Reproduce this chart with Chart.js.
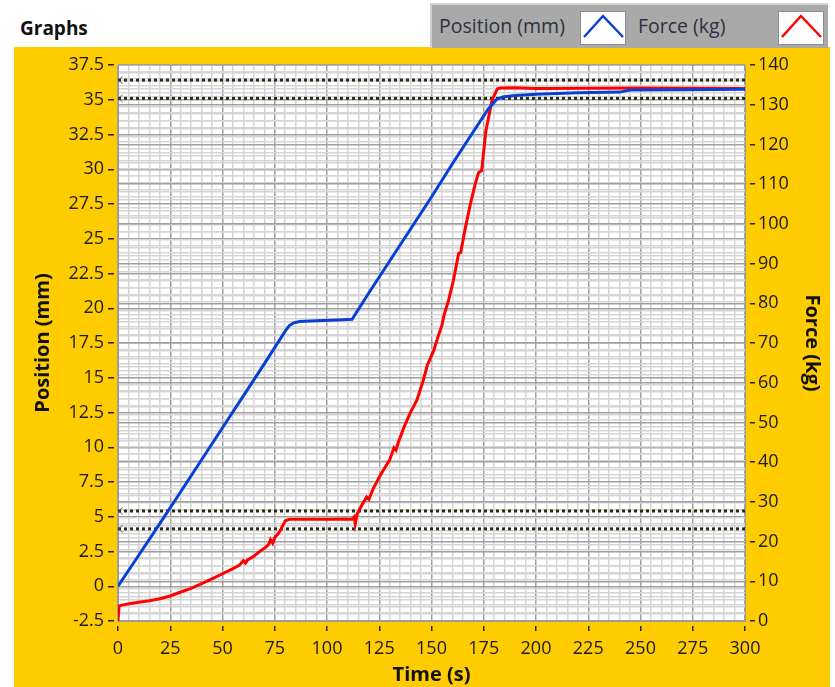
<!DOCTYPE html>
<html>
<head>
<meta charset="utf-8">
<title>Graphs</title>
<script src="https://cdn.jsdelivr.net/npm/chart.js@4.4.1/dist/chart.umd.min.js"></script>
<style>
    html, body { margin: 0; padding: 0; background: #fff; }
    body { width: 835px; height: 687px; position: relative; overflow: hidden; font-family: 'Open Sans', sans-serif; }
    .graph-title { position: absolute; left: 20px; top: 13px; font-size: 19px; font-weight: bold; color: #111; line-height: 30px; }
    .panel { position: absolute; left: 14px; top: 47px; width: 816px; height: 640px; background: #ffcc00; }
    .panel canvas { position: absolute; left: 0; top: 0; }
    .legend { position: absolute; left: 430px; top: 3px; width: 398px; height: 45px; background: #a9a9a9;
              border-top: 2px solid #d6d6d6; border-left: 2px solid #cdcdcd; box-sizing: border-box; }
    .legend-text { position: absolute; top: 5px; font-size: 19.5px; color: #2e3040; line-height: 32px; }
    .legend-icon { position: absolute; top: 6px; width: 46px; height: 34px; background: #fff; border: 1px solid #8c8c8c; box-sizing: border-box; }
    .legend-icon svg { display: block; }
</style>
</head>
<body>
<div class="graph-title">Graphs</div>
<div class="panel">
    <canvas id="graphChart" width="816" height="640"></canvas>
</div>
<div class="legend">
    <span class="legend-text" style="left:7px">Position (mm)</span>
    <div class="legend-icon" style="left:148px">
        <svg width="44" height="32"><polyline points="3,25 22,4 42,25" fill="none" stroke="#0a3fd6" stroke-width="2.5"/></svg>
    </div>
    <span class="legend-text" style="left:206px">Force (kg)</span>
    <div class="legend-icon" style="left:346px">
        <svg width="44" height="32"><polyline points="3,25 22,4 42,25" fill="none" stroke="#ff0000" stroke-width="2.5"/></svg>
    </div>
</div>
<script>
// Position trace (blue, left axis)
const positionTime = [0, 10, 20, 30, 40, 50, 60, 70, 80, 82, 84, 87, 95, 105, 112,
    120, 130, 140, 150, 160, 170, 177, 181, 184, 190, 200, 220, 240, 245, 270, 300];
const positionMm = [0, 2.25, 4.5, 6.8, 9.1, 11.4, 13.7, 16.0, 18.35, 18.75, 18.95, 19.05, 19.1, 19.15, 19.2,
    21.1, 23.4, 25.7, 28.0, 30.4, 32.7, 34.3, 35.0, 35.2, 35.3, 35.4, 35.5, 35.55, 35.7, 35.72, 35.75];

// Force trace (red, right axis)
const forceTime = [0, 0.5, 2, 6, 10, 15, 20, 25, 30, 35, 40, 45, 50, 55, 58, 60, 61, 62, 65, 68,
    70, 72, 73, 74, 75, 77, 80, 82, 90, 100, 108, 112, 113, 113.5, 114.5, 117, 119, 120, 122, 125,
    127, 130, 132, 133, 134, 137, 140, 141, 143, 146, 148, 151, 153, 155, 156, 158, 160.5, 163, 164, 166,
    168.7, 171, 172.5, 174, 176, 179, 181.5, 183, 190, 200, 250, 300];
const forceKg = [0, 3.8, 4.0, 4.4, 4.7, 5.1, 5.6, 6.3, 7.3, 8.2, 9.4, 10.6, 11.9, 13.2, 14.0, 15.2, 14.6, 15.4, 16.3, 17.6,
    18.3, 19.2, 20.5, 19.6, 21.0, 22.2, 25.2, 25.6, 25.6, 25.6, 25.7, 25.6, 26.2, 24.4, 27.0, 29.5, 31.2, 30.6, 33.2, 36.2,
    38.0, 40.6, 43.6, 43.0, 44.8, 49.0, 52.6, 53.6, 55.6, 60.5, 64.4, 68.0, 71.4, 74.5, 77.0, 80.4, 85.8, 92.6, 92.8, 98.5,
    105.2, 110.2, 112.9, 113.4, 123.3, 131.2, 134.0, 134.2, 134.3, 134.1, 134.2, 134.1];

// Dotted cursor / limit lines (kg)
const limitLines = [136.2, 131.6, 27.7, 23.2];

const BLUE = '#0a3fd6';
const RED = '#ff0000';
const MAJOR_GRID = '#a0a0a0';
const MINOR_GRID = '#d5d5d5';
const TICK_FONT = { family: 'Open Sans', size: 18 };
const TITLE_FONT = { family: 'Open Sans', size: 20, weight: 'bold' };

document.addEventListener('DOMContentLoaded', function() {
    initGraph();
});

function isMajor(value, step) {
    return Math.abs(value / step - Math.round(value / step)) < 1e-6;
}

function fmt(value) {
    return String(Math.round(value * 10) / 10);
}

function toPoints(xs, ys) {
    return xs.map((x, i) => ({ x: x, y: ys[i] }));
}

// small "<" marker drawn at the left end of each cursor line
function makeArrowMarker() {
    const c = document.createElement('canvas');
    c.width = 14;
    c.height = 10;
    const g = c.getContext('2d');
    g.strokeStyle = '#505040';
    g.lineWidth = 1;
    g.beginPath();
    g.moveTo(11.5, 1.5);
    g.lineTo(7.5, 5);
    g.lineTo(11.5, 8.5);
    g.stroke();
    return c;
}

function gridOptions(step, offset) {
    return {
        color: ctx => isMajor(ctx.tick.value, step) ? MAJOR_GRID : MINOR_GRID,
        lineWidth: 1.5,
        tickLength: 10,
        tickWidth: 1.5,
        tickColor: ctx => isMajor(ctx.tick.value, step) ? '#222' : 'rgba(0,0,0,0)',
        tickBorderDash: [6, 4],
        tickBorderDashOffset: offset
    };
}

function initGraph() {
    const ctx = document.getElementById('graphChart').getContext('2d');
    const marker = makeArrowMarker();

    const limitSets = limitLines.map(v => ({
        data: [{ x: 0, y: v }, { x: 300, y: v }],
        yAxisID: 'y2',
        borderColor: '#2b2b12',
        borderWidth: 3,
        borderDash: [3, 3],
        pointStyle: marker,
        pointRadius: [5, 0],
        fill: false
    }));

    // white plot area on the yellow panel
    const plotBackground = {
        id: 'plotBackground',
        beforeDraw(chart) {
            const a = chart.chartArea;
            chart.ctx.save();
            chart.ctx.fillStyle = '#ffffff';
            chart.ctx.fillRect(a.left, a.top, a.right - a.left, a.bottom - a.top);
            chart.ctx.restore();
        }
    };

    new Chart(ctx, {
        type: 'line',
        data: {
            datasets: [
                {
                    label: 'Position (mm)',
                    data: toPoints(positionTime, positionMm),
                    yAxisID: 'y',
                    borderColor: BLUE,
                    borderWidth: 3,
                    pointRadius: 0,
                    tension: 0,
                    fill: false
                },
                {
                    label: 'Force (kg)',
                    data: toPoints(forceTime, forceKg),
                    yAxisID: 'y2',
                    borderColor: RED,
                    borderWidth: 3,
                    pointRadius: 0,
                    tension: 0,
                    fill: false
                }
            ].concat(limitSets)
        },
        options: {
            responsive: false,
            animation: false,
            layout: { padding: { top: 18, left: 0, right: 0, bottom: 0 } },
            plugins: {
                legend: { display: false },
                tooltip: { enabled: false }
            },
            scales: {
                x: {
                    type: 'linear',
                    position: 'bottom',
                    min: 0,
                    max: 300,
                    afterFit: scale => { scale.height = 66; },
                    grid: gridOptions(25, 6),
                    border: { color: '#9a9a9a', width: 1 },
                    ticks: {
                        stepSize: 5,
                        autoSkip: false,
                        maxRotation: 0,
                        minRotation: 0,
                        padding: 7,
                        color: '#1a1a1a',
                        font: TICK_FONT,
                        callback: v => isMajor(v, 25) ? fmt(v) : ''
                    },
                    title: { display: true, text: 'Time (s)', color: '#111', font: TITLE_FONT, padding: 0 }
                },
                y: {
                    type: 'linear',
                    position: 'left',
                    min: -2.5,
                    max: 37.5,
                    afterFit: scale => { scale.width = 104; },
                    grid: gridOptions(2.5, 0),
                    border: { color: '#9a9a9a', width: 1 },
                    ticks: {
                        stepSize: 0.5,
                        autoSkip: false,
                        padding: 4,
                        color: '#1a1a1a',
                        font: TICK_FONT,
                        callback: v => isMajor(v, 2.5) ? fmt(v) : ''
                    },
                    title: { display: true, text: 'Position (mm)', color: '#111', font: TITLE_FONT, padding: { top: 17 } }
                },
                y2: {
                    type: 'linear',
                    position: 'right',
                    min: 0,
                    max: 140,
                    afterFit: scale => { scale.width = 85; },
                    grid: gridOptions(10, 6),
                    border: { color: '#9a9a9a', width: 1 },
                    ticks: {
                        stepSize: 2,
                        autoSkip: false,
                        padding: 3,
                        color: '#1a1a1a',
                        font: TICK_FONT,
                        callback: v => isMajor(v, 10) ? fmt(v) : ''
                    },
                    title: { display: true, text: 'Force (kg)', color: '#111', font: TITLE_FONT, padding: { top: 6 } }
                }
            }
        },
        plugins: [plotBackground]
    });
}
</script>
</body>
</html>
